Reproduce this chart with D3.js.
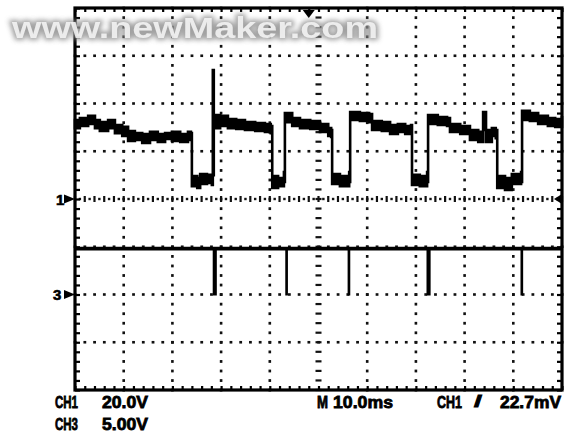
<!DOCTYPE html>
<html>
<head>
<meta charset="utf-8">
<script src="https://cdn.jsdelivr.net/npm/d3@7"></script>
<style>
  html, body { margin: 0; padding: 0; background: #fff; }
  svg { display: block; }
</style>
</head>
<body>
<svg id="scope" width="567" height="434"></svg>
<script>
// ---- Channel 1 trace: time (ms) with the upper and lower edge of the trace band (V)
const ch1Time = [0, 1.0, 2.7, 4.1, 5.1, 6.8, 8.2, 9.7, 10.9, 12.3, 13.8, 15.4, 17.0, 18.5, 19.9, 21.6, 23.2, 23.8,
  24.0, 25.1, 25.7, 27.1, 28.1, 28.3,
  28.5, 29.8, 31.4, 33.1, 34.9, 37.0, 39.0, 40.2,
  40.5, 41.7, 42.9,
  43.1, 44.6, 46.2, 48.3, 50.3, 52.0, 52.6,
  52.8, 54.4, 56.3,
  56.5, 58.5, 60.4, 61.0, 63.0, 64.7, 66.3, 67.8, 69.0,
  69.2, 70.8, 72.3,
  72.5, 74.5, 76.4, 77.0, 79.1, 81.1, 82.8, 83.8, 84.4, 85.6, 86.4,
  86.7, 88.3, 89.7, 91.6,
  91.8, 93.4, 95.1, 97.1, 98.6, 100];
const ch1Max = [33.1, 33.9, 34.8, 33.1, 32.2, 33.1, 31.0, 30.2, 28.5, 27.6, 27.2, 28.1, 27.2, 27.6, 28.1, 27.2, 28.1, 27.6,
  9.6, 8.8, 10.5, 10.1, 10.1, 54.0,
  35.2, 34.8, 33.5, 33.1, 32.2, 31.8, 31.4, 30.6,
  9.6, 8.8, 11.3,
  36.0, 33.9, 33.1, 32.7, 31.4, 29.7, 28.9,
  10.5, 9.6, 11.3,
  36.4, 36.0, 35.6, 32.7, 32.2, 31.0, 31.4, 30.6, 31.0,
  10.1, 9.6, 11.3,
  35.2, 34.3, 33.9, 31.4, 30.6, 28.9, 28.1, 36.4, 28.9, 29.7, 28.9,
  9.6, 8.8, 10.5, 11.3,
  36.9, 36.0, 34.8, 33.9, 33.5, 34.8];
const ch1Min = [29.7, 30.6, 31.4, 29.7, 28.5, 29.7, 27.6, 26.4, 24.3, 24.7, 23.5, 24.7, 23.9, 25.1, 24.3, 23.9, 24.7, 24.7,
  5.4, 4.6, 6.3, 6.7, 5.9, 10.0,
  29.7, 30.6, 29.7, 29.3, 28.9, 28.5, 28.1, 27.6,
  4.6, 5.4, 7.1,
  32.2, 30.6, 29.7, 29.3, 28.1, 26.4, 26.0,
  6.3, 5.4, 7.1,
  33.1, 32.7, 32.2, 28.9, 28.5, 27.2, 28.1, 27.2, 27.6,
  5.9, 5.4, 7.1,
  31.4, 31.0, 30.6, 28.1, 27.2, 24.7, 23.9, 28.9, 23.9, 26.4, 25.5,
  4.6, 3.8, 6.3, 7.1,
  33.1, 32.7, 31.4, 30.6, 30.2, 31.4];

// ---- Channel 3: idle level and the short low-going pulses (ms)
const ch3High = 4.8;
const ch3Low = 0;
const ch3PulseStart = [28.4, 43.3, 56.1, 72.3, 91.6];
const ch3PulseWidth = [0.6, 0.3, 0.3, 0.6, 0.3];

// ---- Settings / readout
const msPerDiv = 10, ch1VoltsPerDiv = 20, ch3VoltsPerDiv = 5;
const ch1PositionDiv = 0, ch3PositionDiv = -2;
const readoutRow1 = ["CH1", "20.0V"];
const readoutRow2 = ["CH3", "5.00V"];
const readoutTime = ["M", "10.0ms"];
const readoutTrigger = ["CH1", "/", "22.7mV"];
const watermark = "www.newMaker.com";

// ---- Screen geometry
const gLeft = 75, gRight = 562, gTop = 8, gBottom = 390;
const hDivs = 10, vDivs = 8;

const svg = d3.select("#scope");

const xDiv = d3.scaleLinear().domain([0, hDivs]).range([gLeft, gRight]);
const yDiv = d3.scaleLinear().domain([-vDivs / 2, vDivs / 2]).range([gBottom, gTop]);
const x = d3.scaleLinear().domain([0, hDivs * msPerDiv]).range([gLeft, gRight]);
const yCh1 = d3.scaleLinear()
  .domain([(-vDivs / 2 - ch1PositionDiv) * ch1VoltsPerDiv, (vDivs / 2 - ch1PositionDiv) * ch1VoltsPerDiv])
  .range([gBottom, gTop]);
const yCh3 = d3.scaleLinear()
  .domain([(-vDivs / 2 - ch3PositionDiv) * ch3VoltsPerDiv, (vDivs / 2 - ch3PositionDiv) * ch3VoltsPerDiv])
  .range([gBottom, gTop]);

const minorH = d3.range(0, hDivs + 0.001, 0.2);
const minorV = d3.range(-vDivs / 2, vDivs / 2 + 0.001, 0.2);

// ---- Graticule dots
const grid = svg.append("g").attr("fill", "#111");
d3.range(1, hDivs).filter(i => i !== hDivs / 2).forEach(i => {
  grid.selectAll(null).data(minorV).join("rect")
    .attr("x", xDiv(i) - 1.3).attr("y", d => yDiv(d) - 1.3)
    .attr("width", 2.6).attr("height", 2.8);
});
d3.range(-vDivs / 2 + 1, vDivs / 2).filter(j => j !== 0).forEach(j => {
  grid.selectAll(null).data(minorH).join("rect")
    .attr("x", d => xDiv(d) - 1.3).attr("y", yDiv(j) - 1.3)
    .attr("width", 2.8).attr("height", 2.6);
});

// ---- Centre cross with tick marks
const cx = xDiv(hDivs / 2), cy = yDiv(0);
const cross = svg.append("g").attr("stroke", "#111").attr("stroke-width", 2.2);
cross.selectAll(null).data(minorV).join("line")
  .attr("x1", cx - 3).attr("x2", cx + 3)
  .attr("y1", d => yDiv(d)).attr("y2", d => yDiv(d));
cross.selectAll(null).data(minorH).join("line")
  .attr("x1", d => xDiv(d)).attr("x2", d => xDiv(d))
  .attr("y1", cy - 3).attr("y2", cy + 3);
grid.selectAll(null).data(d3.range(0, hDivs, 0.2).map(d => d + 0.1)).join("rect")
  .attr("x", d => xDiv(d) - 1.2).attr("y", cy - 1.2).attr("width", 2.4).attr("height", 2.4);

// ---- Frame with inward minor ticks
const frame = svg.append("g");
frame.append("g").attr("transform", `translate(0,${gTop})`)
  .call(d3.axisBottom(xDiv).tickValues(minorH).tickSizeInner(4).tickSizeOuter(0).tickFormat(""));
frame.append("g").attr("transform", `translate(0,${gBottom})`)
  .call(d3.axisTop(xDiv).tickValues(minorH).tickSizeInner(4).tickSizeOuter(0).tickFormat(""));
frame.append("g").attr("transform", `translate(${gLeft},0)`)
  .call(d3.axisRight(yDiv).tickValues(minorV).tickSizeInner(5).tickSizeOuter(0).tickFormat(""));
frame.append("g").attr("transform", `translate(${gRight},0)`)
  .call(d3.axisLeft(yDiv).tickValues(minorV).tickSizeInner(5).tickSizeOuter(0).tickFormat(""));
frame.selectAll(".domain").remove();
frame.selectAll(".tick line").attr("stroke", "#000").attr("stroke-width", 2.2);
frame.append("rect")
  .attr("x", gLeft).attr("y", gTop).attr("width", gRight - gLeft).attr("height", gBottom - gTop)
  .attr("fill", "none").attr("stroke", "#000").attr("stroke-width", 3.2);

// ---- Channel 3 trace
const ch3 = svg.append("g").attr("fill", "#000");
ch3.append("line")
  .attr("x1", x(0)).attr("x2", x(hDivs * msPerDiv))
  .attr("y1", yCh3(ch3High)).attr("y2", yCh3(ch3High))
  .attr("stroke", "#000").attr("stroke-width", 3.8);
ch3.selectAll("rect.pulse").data(ch3PulseStart.map((s, i) => ({ s, w: ch3PulseWidth[i] })))
  .join("rect").attr("class", "pulse")
  .attr("x", d => x(d.s) - 0.6)
  .attr("width", d => Math.max(1.8, x(d.s + d.w) - x(d.s) + 1.2))
  .attr("y", yCh3(ch3High))
  .attr("height", yCh3(ch3Low) - yCh3(ch3High) + 1);

// ---- Channel 1 trace band
const ch1Data = ch1Time.map((t, i) => ({ t, hi: ch1Max[i], lo: ch1Min[i] }));
const band = d3.area()
  .x(d => x(d.t)).y0(d => yCh1(d.lo)).y1(d => yCh1(d.hi))
  .curve(d3.curveStepAfter);
svg.append("path").datum(ch1Data)
  .attr("d", band)
  .attr("fill", "#000").attr("stroke", "#000")
  .attr("stroke-width", 2.6).attr("stroke-linejoin", "miter");

// ---- Channel ground markers
const markers = svg.append("g").attr("fill", "#000");
[["1", yCh1(0)], ["3", yCh3(0)]].forEach(([label, yy]) => {
  markers.append("text").text(label)
    .attr("x", label === "1" ? 56 : 53).attr("y", yy + 5.5)
    .attr("font-family", "Liberation Sans, Arial, sans-serif")
    .attr("font-weight", "bold").attr("font-size", 15)
    .attr("stroke", "#000").attr("stroke-width", 0.6);
  markers.append("path")
    .attr("d", `M${gLeft - 11},${yy - 4.5}L${gLeft},${yy}L${gLeft - 11},${yy + 4.5}Z`);
});
// trigger level (right edge) and trigger position (top)
markers.append("path")
  .attr("d", `M${gRight},${yCh1(0) - 5}L${gRight - 8},${yCh1(0)}L${gRight},${yCh1(0) + 5}Z`);
markers.append("path")
  .attr("d", `M${x(48) - 6},${gTop + 2}L${x(48) + 6},${gTop + 2}L${x(48)},${gTop + 10}Z`);

// ---- Readout text
const readout = svg.append("g")
  .attr("font-family", "Liberation Sans Narrow, Arial Narrow, Liberation Sans, sans-serif")
  .attr("font-weight", "bold").attr("font-size", 17).attr("fill", "#000")
  .attr("stroke", "#000").attr("stroke-width", 0.8);
const put = (txt, x0, w, yb) => readout.append("text").text(txt)
  .attr("x", x0).attr("y", yb)
  .attr("textLength", w).attr("lengthAdjust", "spacingAndGlyphs");
put(readoutRow1[0], 55, 23, 408);
put(readoutRow1[1], 102, 46, 408);
put(readoutRow2[0], 55, 23, 430);
put(readoutRow2[1], 102, 46, 430);
put(readoutTime[0], 317, 11, 408);
put(readoutTime[1], 333, 60, 408);
put(readoutTrigger[0], 437, 25, 408);
put(readoutTrigger[1], 474, 8, 407);
put(readoutTrigger[2], 500, 61, 408);

// ---- Site watermark
const defs = svg.append("defs");
defs.append("filter").attr("id", "glow").attr("x", "-10%").attr("y", "-50%")
  .attr("width", "120%").attr("height", "200%")
  .append("feGaussianBlur").attr("stdDeviation", 2.8);
const wm = svg.append("g")
  .attr("font-family", "Liberation Sans, Arial, sans-serif")
  .attr("font-weight", "bold").attr("font-size", 29);
wm.append("text").text(watermark)
  .attr("x", 12).attr("y", 38)
  .attr("textLength", 366).attr("lengthAdjust", "spacingAndGlyphs")
  .attr("fill", "#999").attr("stroke", "#8a8a8a").attr("stroke-width", 4)
  .attr("opacity", 0.8).attr("filter", "url(#glow)");
wm.append("text").text(watermark)
  .attr("x", 12).attr("y", 38)
  .attr("textLength", 366).attr("lengthAdjust", "spacingAndGlyphs")
  .attr("fill", "#f6f6f6").attr("opacity", 0.88);
</script>
</body>
</html>
